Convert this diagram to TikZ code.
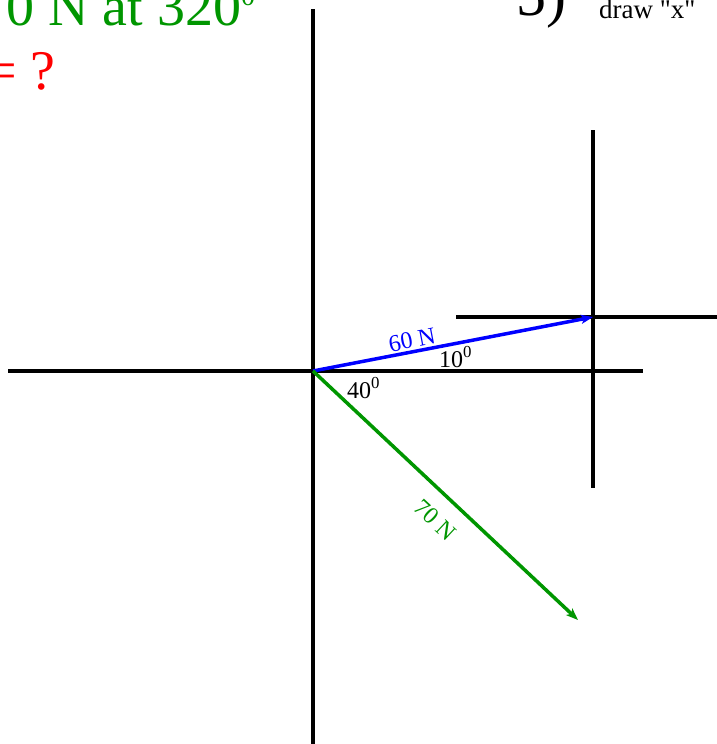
\documentclass[tikz,border=0pt]{standalone}
\usepackage{fontspec}
\setmainfont{Liberation Serif}
\newfontfamily\plainserif{Liberation Serif}
\usetikzlibrary{arrows.meta}
\definecolor{dgreen}{RGB}{0,150,0}
\definecolor{vblue}{RGB}{0,0,255}
\definecolor{vred}{RGB}{255,0,0}
\tikzset{
  axis/.style={line width=3.5pt,black},
  vec/.style={line width=3.5pt,-{Stealth[length=12pt,width=9pt,inset=3pt]}},
  lbl/.style={inner sep=0pt,font=\fontsize{24}{28}\selectfont},
  big/.style={inner sep=0pt,font=\fontsize{56}{64}\selectfont}
}
\begin{document}
\begin{tikzpicture}[x=1pt,y=-1pt]
\clip (0,0) rectangle (717,744);
\fill[white] (0,0) rectangle (717,744);
% coordinates
\coordinate (O) at (313,371);
\coordinate (B) at (593,317);
\coordinate (G) at (578,620);
% axes
\coordinate (VT) at (313,9);
\coordinate (VB) at (313,750);
\coordinate (HL) at (8,371);
\coordinate (HR) at (643,371);
\coordinate (sVT) at (593,130);
\coordinate (sVB) at (593,488);
\coordinate (sHL) at (456,317);
\coordinate (sHR) at (725,317);
\draw[axis] (VT) -- (VB);
\draw[axis] (HL) -- (HR);
\draw[axis] (sVT) -- (sVB);
\draw[axis] (sHL) -- (sHR);
% vectors
\draw[vec,vblue] (O) -- (B);
\draw[vec,dgreen] (O) -- (G);
% labels
\node[lbl,vblue,rotate=10.9] (l60) at (412,340) {60 N};
\node[lbl,anchor=base west] (l10) at (439,367) {10\textsuperscript{0}};
\node[lbl,anchor=base west] (l40) at (347,398) {40\textsuperscript{0}};
\node[lbl,dgreen,rotate=-43] (l70) at (435,520) {70 N};
% title texts
\node[big,dgreen,anchor=base west] (title) at (-22,25) {70 N at 320\raisebox{20pt}{\fontsize{28}{30}\selectfont 0}};
\node[big,vred,anchor=base west] (q) at (-15,89) {= ?};
\node[inner sep=0pt,font=\fontsize{60}{70}\selectfont,anchor=base west] (five) at (516,15) {5)};
\node[inner sep=0pt,font=\plainserif\fontsize{27}{32}\selectfont,anchor=base west] (draw) at (599,18) {draw "x"};
\end{tikzpicture}
\end{document}
